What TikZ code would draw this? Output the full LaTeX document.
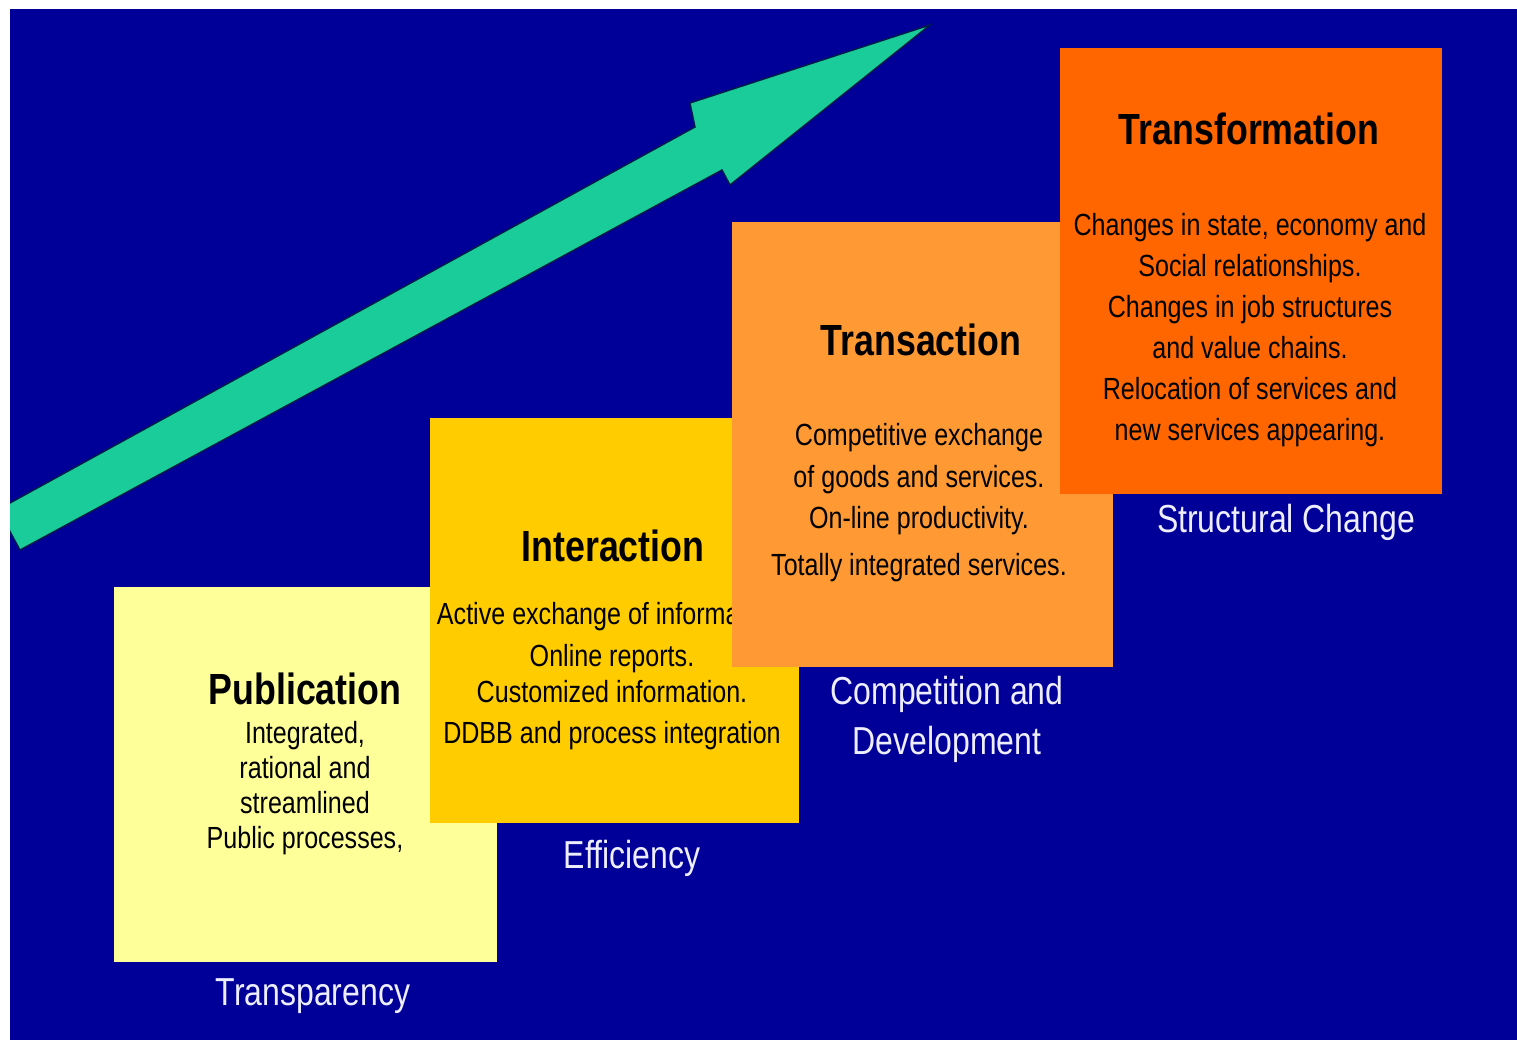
\documentclass[tikz,border=0pt]{standalone}
\usepackage{fontspec}
\newfontfamily\nar{Liberation Sans}[FakeStretch=0.82]
\definecolor{bgblue}{RGB}{0,0,153}
\definecolor{arrowgreen}{RGB}{25,204,153}
\definecolor{arrowedge}{RGB}{0,30,70}
\definecolor{pubc}{RGB}{255,255,153}
\definecolor{intc}{RGB}{255,204,0}
\definecolor{trac}{RGB}{255,153,51}
\definecolor{trfc}{RGB}{255,102,0}
\definecolor{labc}{RGB}{238,238,255}
\begin{document}
\begin{tikzpicture}[x=0.01cm,y=-0.01cm,
  stage/.style={rectangle, inner sep=0pt, outer sep=0pt, draw=none},
  ttl/.style={font=\nar\bfseries\fontsize{12.4}{14}\selectfont, text=black, inner sep=0pt},
  body/.style={font=\nar\fontsize{8.7}{#1}\selectfont, text=black, align=center, inner sep=0pt},
  body/.default=11.5pt,
  lbl/.style={font=\nar\fontsize{11.1}{14.2}\selectfont, text=labc, align=center, inner sep=0pt}]
\useasboundingbox (0,0) rectangle (1517,1040);
\fill[white] (0,0) rectangle (1517,1040);
\fill[bgblue] (10,9) rectangle (1517,1040);
% arrow
\begin{scope}
\clip (10,9) rectangle (1517,1040);
\filldraw[fill=arrowgreen, draw=arrowedge, line width=0.4pt]
  (0,508.5) -- (695,127) -- (690,103) -- (930,25) -- (730,185) -- (722,170) -- (20,550) -- (0,513) -- cycle;
\end{scope}
% Publication
\node[stage, fill=pubc, minimum width=3.83cm, minimum height=3.75cm] (pub) at (305.5,774.5) {};
\node[ttl] (pubt) at (305,689) {Publication};
\node[body=10pt] (pubb) at (305,788) {Integrated,\\rational and\\streamlined\\Public processes,};
% Interaction
\node[stage, fill=intc, minimum width=3.69cm, minimum height=4.05cm] (int) at (614.5,620.5) {};
\node[ttl] (intt) at (613,546) {Interaction};
\node[body=11.8pt] (intb) at (612,676.5) {Active exchange of information.\\Online reports.\\[-1.6pt]Customized information.\\DDBB and process integration};
% Transaction
\node[stage, fill=trac, minimum width=3.81cm, minimum height=4.45cm] (tra) at (922.5,444.5) {};
\node[ttl] (trat) at (921,340) {Transaction};
\node[body=11.8pt] (trab) at (919,502.5) {Competitive exchange\\of goods and services.\\On-line productivity.\\[1.5pt]Totally integrated services.};
% Transformation
\node[stage, fill=trfc, minimum width=3.82cm, minimum height=4.46cm] (trf) at (1251,271) {};
\node[ttl] (trft) at (1249,129) {Transformation};
\node[body=11.67pt] (trfb) at (1250,330) {Changes in state, economy and\\Social relationships.\\Changes in job structures\\and value chains.\\Relocation of services and\\new services appearing.};
% labels
\node[lbl] (l1) at (313,996) {Transparency};
\node[lbl] (l2) at (632,858) {Efficiency};
\node[lbl] (l3) at (947,719) {Competition and\\Development};
\node[lbl] (l4) at (1286,522) {Structural Change};
\end{tikzpicture}
\end{document}
